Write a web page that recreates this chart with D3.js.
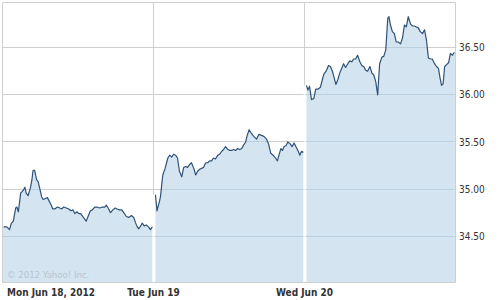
<!DOCTYPE html>
<html>
<head>
<meta charset="utf-8">
<script src="https://cdn.jsdelivr.net/npm/d3@7"></script>
<style>
  body { margin: 0; background: #fff; }
  svg { display: block; }
  text { font-family: "DejaVu Sans Condensed", "DejaVu Sans", sans-serif; }
</style>
</head>
<body>
<svg id="chart" width="498" height="300"></svg>
<script>
// day labels along the bottom
var dayLabels = ["Mon Jun 18, 2012", "Tue Jun 19", "Wed Jun 20"];

// minutes after the open and price, one pair of arrays per session
var monMinutes = [3, 11, 18, 23, 28, 34, 37, 41, 47, 50, 54, 58, 61, 66, 72, 76, 79, 83, 88, 92, 96, 101, 105, 111, 116, 121, 126, 130, 135, 142, 148, 153, 158, 165, 171, 177, 182, 187, 192, 197, 202, 209, 216, 221, 227, 232, 238, 244, 251, 258, 264, 268, 273, 279, 285, 291, 296, 302, 308, 313, 320, 326, 333, 339, 343, 348, 352, 357, 361, 366, 371, 377, 382, 387];
var monPrices = [34.60, 34.60, 34.57, 34.64, 34.66, 34.80, 34.81, 34.76, 34.96, 34.97, 34.99, 35.02, 34.96, 34.93, 35.01, 35.10, 35.20, 35.20, 35.10, 35.08, 35.01, 34.92, 34.89, 34.90, 34.91, 34.87, 34.83, 34.79, 34.79, 34.81, 34.80, 34.79, 34.81, 34.80, 34.79, 34.77, 34.78, 34.74, 34.76, 34.74, 34.74, 34.70, 34.66, 34.71, 34.77, 34.78, 34.81, 34.81, 34.80, 34.81, 34.81, 34.83, 34.80, 34.75, 34.78, 34.80, 34.79, 34.78, 34.78, 34.75, 34.71, 34.70, 34.72, 34.70, 34.65, 34.60, 34.58, 34.61, 34.64, 34.61, 34.62, 34.60, 34.57, 34.60];

var tueMinutes = [5, 9, 16, 18, 24, 30, 37, 42, 47, 52, 57, 62, 67, 73, 78, 83, 88, 93, 98, 104, 109, 114, 119, 124, 129, 135, 140, 145, 150, 155, 160, 166, 171, 176, 181, 186, 192, 197, 202, 207, 212, 217, 223, 228, 233, 238, 242, 247, 253, 259, 266, 272, 279, 285, 292, 297, 303, 309, 315, 320, 324, 329, 333, 337, 342, 347, 353, 358, 363, 368, 373, 378, 382, 387];
var tuePrices = [34.94, 34.77, 34.88, 34.92, 35.15, 35.22, 35.33, 35.36, 35.34, 35.37, 35.36, 35.33, 35.19, 35.13, 35.23, 35.24, 35.23, 35.26, 35.28, 35.22, 35.15, 35.19, 35.21, 35.22, 35.23, 35.28, 35.28, 35.30, 35.30, 35.33, 35.32, 35.36, 35.37, 35.40, 35.42, 35.45, 35.42, 35.41, 35.41, 35.42, 35.41, 35.43, 35.42, 35.43, 35.47, 35.50, 35.57, 35.63, 35.59, 35.56, 35.53, 35.58, 35.57, 35.56, 35.53, 35.48, 35.38, 35.36, 35.33, 35.30, 35.36, 35.43, 35.41, 35.45, 35.46, 35.50, 35.48, 35.45, 35.49, 35.45, 35.41, 35.36, 35.40, 35.39];

var wedMinutes = [5, 9, 13, 18, 24, 29, 35, 41, 46, 50, 57, 62, 67, 72, 76, 81, 86, 91, 96, 101, 106, 112, 117, 122, 127, 132, 137, 143, 148, 153, 158, 163, 169, 174, 179, 184, 189, 194, 200, 205, 210, 215, 218, 222, 227, 232, 237, 242, 248, 253, 258, 263, 268, 274, 279, 284, 289, 294, 299, 305, 310, 315, 320, 325, 330, 336, 341, 346, 350, 354, 358, 362, 367, 372, 377, 382, 387];
var wedPrices = [36.10, 36.05, 36.09, 35.95, 35.96, 36.06, 36.06, 36.08, 36.16, 36.22, 36.26, 36.31, 36.30, 36.25, 36.19, 36.11, 36.16, 36.23, 36.28, 36.33, 36.29, 36.33, 36.36, 36.35, 36.38, 36.38, 36.42, 36.35, 36.31, 36.30, 36.26, 36.25, 36.30, 36.23, 36.21, 36.14, 36.00, 36.33, 36.40, 36.41, 36.48, 36.81, 36.83, 36.74, 36.67, 36.65, 36.56, 36.56, 36.54, 36.60, 36.74, 36.72, 36.83, 36.75, 36.73, 36.73, 36.72, 36.71, 36.67, 36.65, 36.69, 36.58, 36.39, 36.38, 36.38, 36.33, 36.30, 36.28, 36.18, 36.10, 36.12, 36.30, 36.32, 36.34, 36.44, 36.42, 36.45];

// price axis ticks
var yTicks = [34.5, 35.0, 35.5, 36.0, 36.5];
var yTickLabels = ["34.50", "35.00", "35.50", "36.00", "36.50"];

var sessionLength = 390;

var sessions = [
  { minutes: monMinutes, prices: monPrices },
  { minutes: tueMinutes, prices: tuePrices },
  { minutes: wedMinutes, prices: wedPrices }
].map(function (s, i) {
  return s.minutes.map(function (m, j) {
    return { t: i * sessionLength + m, v: s.prices[j] };
  });
});

var plotLeft = 2.5, plotRight = 455.5, plotTop = 2.5, plotBottom = 282.5;

var svg = d3.select("#chart");

var x = d3.scaleLinear().domain([0, sessionLength * 3]).range([plotLeft, plotRight]);
var y = d3.scaleLinear().domain([34.010, 36.979]).range([plotBottom, plotTop]);

var crisp = function (v) { return Math.round(v - 0.5) + 0.5; };

// grid under the fill
var grid = svg.append("g");
grid.selectAll("line.h")
  .data(yTicks)
  .enter().append("line")
  .attr("x1", plotLeft).attr("x2", plotRight)
  .attr("y1", function (d) { return crisp(y(d)); })
  .attr("y2", function (d) { return crisp(y(d)); })
  .attr("stroke", "#cfcfcf");
grid.selectAll("line.v")
  .data([1, 2])
  .enter().append("line")
  .attr("x1", function (d) { return crisp(x(d * sessionLength)); })
  .attr("x2", function (d) { return crisp(x(d * sessionLength)); })
  .attr("y1", plotTop).attr("y2", plotBottom)
  .attr("stroke", "#cfcfcf");

var area = d3.area()
  .x(function (d) { return x(d.t); })
  .y0(plotBottom)
  .y1(function (d) { return y(d.v); });

var line = d3.line()
  .x(function (d) { return x(d.t); })
  .y(function (d) { return y(d.v); });

// first session's fill starts at the left edge, last one runs to the right edge
var fillData = sessions.map(function (s, i) {
  if (i === 0) return [{ t: 0, v: s[0].v }].concat(s);
  if (i === 2) return s.concat([{ t: sessionLength * 3, v: s[s.length - 1].v }]);
  return s;
});

svg.append("g").selectAll("path")
  .data(fillData)
  .enter().append("path")
  .attr("d", area)
  .attr("fill", "#d5e4f1");

// gridlines seen through the fill
var clip = svg.append("clipPath").attr("id", "fillclip");
clip.selectAll("path")
  .data(fillData)
  .enter().append("path")
  .attr("d", area);

svg.append("g")
  .attr("clip-path", "url(#fillclip)")
  .selectAll("line")
  .data(yTicks)
  .enter().append("line")
  .attr("x1", plotLeft).attr("x2", plotRight)
  .attr("y1", function (d) { return crisp(y(d)); })
  .attr("y2", function (d) { return crisp(y(d)); })
  .attr("stroke", "#bccfdf");

// white gap between sessions inside the fill
svg.append("g").selectAll("line")
  .data([1, 2])
  .enter().append("line")
  .attr("x1", function (d) { return crisp(x(d * sessionLength)); })
  .attr("x2", function (d) { return crisp(x(d * sessionLength)); })
  .attr("y1", function (d) {
    var a = sessions[d - 1], b = sessions[d];
    return y(Math.max(a[a.length - 1].v, b[0].v));
  })
  .attr("y2", plotBottom)
  .attr("stroke", "#ffffff")
  .attr("stroke-width", 1.5);

svg.append("g").selectAll("path")
  .data(sessions)
  .enter().append("path")
  .attr("d", line)
  .attr("fill", "none")
  .attr("stroke", "#2e5275")
  .attr("stroke-width", 1.2)
  .attr("stroke-linejoin", "round");

// frame
svg.append("path")
  .attr("d", "M" + plotLeft + "," + plotBottom + "V" + plotTop + "H" + plotRight + "V" + plotBottom + "H" + plotLeft)
  .attr("fill", "none")
  .attr("stroke", "#cfcfcf");

// price labels on the right
svg.append("g").selectAll("text")
  .data(yTicks)
  .enter().append("text")
  .attr("x", 459)
  .attr("y", function (d) { return y(d); })
  .attr("dy", "0.36em")
  .attr("font-size", 10)
  .attr("fill", "#333")
  .text(function (d, i) { return yTickLabels[i]; });

// day labels
svg.append("g").selectAll("text")
  .data(dayLabels)
  .enter().append("text")
  .attr("x", function (d, i) { return i === 0 ? 7 : x(i * sessionLength); })
  .attr("y", 296)
  .attr("text-anchor", function (d, i) { return i === 0 ? "start" : "middle"; })
  .attr("font-size", 10)
  .attr("font-weight", "bold")
  .attr("fill", "#333")
  .text(function (d) { return d; });

svg.append("text")
  .attr("x", 7)
  .attr("y", 278)
  .attr("font-size", 9.5)
  .attr("fill", "#b8c4cf")
  .text("\u00a9 2012 Yahoo! Inc.");
</script>
</body>
</html>
